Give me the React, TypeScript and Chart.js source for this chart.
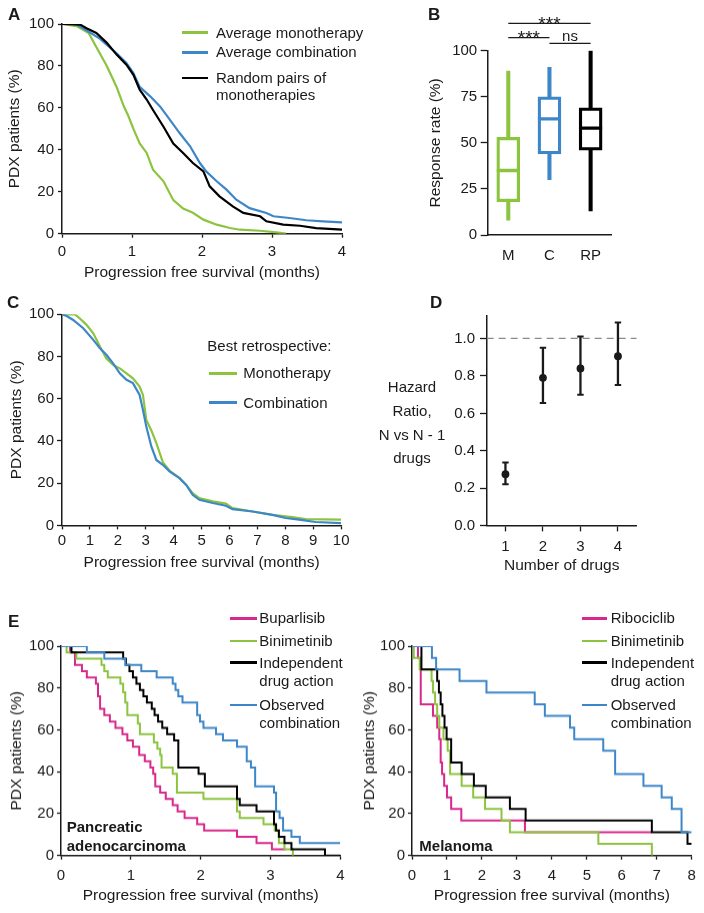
import React, { useEffect, useRef } from 'react';
import { Chart, registerables } from 'chart.js';

Chart.register(...registerables);

const FONT = "'Liberation Sans', Arial, Helvetica, sans-serif";
const INK = '#1a1a1a';
const GREEN = '#8cc43f';
const BLUE = '#3d87c9';
const BLACK = '#000000';
const MAGENTA = '#d8288c';
const DASH_GREY = '#8a8a8a';

// ---------------- Panel A : average survival ----------------
const A_LABELS = ['Average monotherapy', 'Average combination', 'Random pairs of monotherapies'];
const A_MONO_T = [0, 0.21, 0.38, 0.49, 0.64, 0.78, 0.88, 0.95, 1.02, 1.11, 1.21, 1.3, 1.45, 1.59, 1.73, 1.87, 2.02, 2.21, 2.4, 2.54, 2.83, 3.06, 3.2];
const A_MONO_S = [100, 99, 95.7, 89, 80, 70, 61, 56, 50, 43, 38.5, 30.5, 25, 16, 12, 10, 6.7, 4.3, 2.7, 1.9, 1.4, 0.6, 0];
const A_COMB_T = [0, 0.2, 0.3, 0.54, 0.78, 0.92, 1.02, 1.11, 1.26, 1.4, 1.54, 1.68, 1.83, 1.97, 2.06, 2.21, 2.35, 2.49, 2.68, 2.92, 3.02, 3.25, 3.49, 3.73, 4.0];
const A_COMB_S = [100, 100, 98, 93, 86, 81.4, 76.6, 70, 65.5, 60.7, 54.4, 48, 41.7, 33.7, 29.7, 25, 21, 16.2, 12.2, 9.9, 8.3, 7.5, 6.4, 5.9, 5.4];
const A_PAIR_T = [0, 0.26, 0.35, 0.49, 0.64, 0.78, 0.92, 1.02, 1.11, 1.21, 1.3, 1.45, 1.59, 1.73, 1.87, 2.02, 2.11, 2.25, 2.44, 2.59, 2.83, 2.92, 3.16, 3.4, 3.63, 4.0];
const A_PAIR_S = [100, 99.7, 98, 95.7, 91, 85.4, 80.6, 75.8, 68.7, 64, 59, 51, 43, 38.5, 33.7, 29.7, 22.6, 17.8, 13, 9.9, 8.3, 5.9, 4.3, 3.8, 2.7, 1.9];
const A_X_TICKS = [0, 1, 2, 3, 4];

// ---------------- Panel B : response rate box plots ----------------
const B_GROUPS = ['M', 'C', 'RP'];
const B_MIN = [8, 30, 13];
const B_Q1 = [18, 44, 46];
const B_MEDIAN = [35, 63, 58];
const B_Q3 = [53, 75, 69];
const B_MAX = [89, 91, 100];
const B_Y_TICKS = [0, 25, 50, 75, 100];
const B_SIG_FROM = [0, 0, 1];
const B_SIG_TO = [2, 1, 2];
const B_SIG_TEXT = ['***', '***', 'ns'];

// ---------------- Panel C : best retrospective ----------------
const C_LABELS = ['Monotherapy', 'Combination'];
const C_MONO_T = [0, 0.46, 0.64, 0.88, 1.12, 1.36, 1.59, 1.83, 2.07, 2.31, 2.54, 2.78, 2.9, 3.02, 3.2, 3.38, 3.61, 3.85, 4.21, 4.45, 4.68, 4.92, 5.4, 5.87, 6.11, 6.83, 7.54, 8.25, 8.73, 10];
const C_MONO_S = [100, 100, 98, 95, 91, 84.7, 79, 76, 74.4, 72, 69.7, 65.8, 61.8, 50, 45, 39, 30, 26, 22.4, 19.2, 15.3, 12.9, 11.4, 10.3, 8.2, 6.6, 5.0, 3.9, 3.0, 2.7];
const C_COMB_T = [0, 0.17, 0.4, 0.76, 1.12, 1.36, 1.59, 1.83, 2.07, 2.31, 2.54, 2.78, 2.9, 3.02, 3.2, 3.38, 3.61, 3.85, 4.21, 4.45, 4.68, 4.92, 5.4, 5.87, 6.11, 6.83, 7.54, 8.01, 8.49, 9.08, 10];
const C_COMB_S = [100, 99.2, 97.3, 93.4, 87.9, 83.9, 80.8, 76.8, 72, 69, 67.4, 61.8, 54.7, 46.8, 37.4, 31, 28.7, 25.6, 22.4, 19.2, 14.5, 12.1, 10.6, 9.3, 7.7, 6.6, 5.0, 3.5, 2.7, 1.6, 1.1];
const C_X_TICKS = [0, 1, 2, 3, 4, 5, 6, 7, 8, 9, 10];

// ---------------- Panel D : hazard ratios ----------------
const D_N = [1, 2, 3, 4];
const D_HR = [0.275, 0.79, 0.84, 0.905];
const D_LO = [0.222, 0.655, 0.7, 0.752];
const D_HI = [0.337, 0.95, 1.01, 1.085];
const D_REF = 1.0;
const D_Y_TICKS = [0, 0.2, 0.4, 0.6, 0.8, 1.0];
const D_X_MIN = 0.5;
const D_X_MAX = 4.5;
const D_Y_MAX = 1.12;

// ---------------- Panel E : pancreatic adenocarcinoma ----------------
const EP_LABELS = ['Buparlisib', 'Binimetinib', 'Independent drug action', 'Observed combination'];
const EP_BUP_T = [0, 0.13, 0.2, 0.3, 0.37, 0.5, 0.53, 0.56, 0.62, 0.7, 0.78, 0.88, 0.95, 1.03, 1.12, 1.2, 1.28, 1.32, 1.35, 1.42, 1.5, 1.6, 1.67, 1.77, 1.95, 2.05, 2.52, 2.8, 3.02, 3.22];
const EP_BUP_S = [100, 97, 91, 88, 85, 82, 76, 70, 67, 64, 61, 58, 55, 52, 48, 45, 42, 39, 33, 30, 27, 24, 21, 18, 15, 12, 9, 6, 3, 3];
const EP_BIN_T = [0, 0.08, 0.22, 0.58, 0.62, 0.67, 0.85, 0.89, 0.92, 0.95, 1.1, 1.13, 1.33, 1.38, 1.42, 1.44, 1.6, 1.66, 2.04, 2.52, 2.56, 2.9, 3.06, 3.12, 3.2, 3.32];
const EP_BIN_S = [100, 97, 94, 91, 88, 85, 82, 78, 73, 67, 63, 58, 54, 51, 48, 42, 39, 30, 27, 21, 18, 15, 12, 6, 3, 0];
const EP_IDA_T = [0, 0.15, 0.89, 0.93, 0.98, 1.03, 1.08, 1.13, 1.18, 1.23, 1.3, 1.34, 1.39, 1.45, 1.52, 1.62, 1.68, 1.97, 2.06, 2.52, 2.56, 2.8, 3.05, 3.08, 3.12, 3.2, 3.3, 3.78, 4.0];
const EP_IDA_S = [100, 97, 94, 91, 88, 85, 82, 79, 76, 73, 70, 67, 64, 61, 58, 55, 42, 39, 33, 27, 24, 21, 15, 12, 9, 6, 3, 0, 0];
const EP_OBS_T = [0, 0.37, 0.62, 0.92, 1.15, 1.37, 1.6, 1.64, 1.68, 1.74, 1.95, 1.99, 2.04, 2.22, 2.32, 2.52, 2.66, 2.72, 2.78, 3.05, 3.08, 3.13, 3.18, 3.3, 3.42, 4.0];
const EP_OBS_S = [100, 97, 94, 91, 88, 85, 82, 79, 76, 73, 67, 64, 61, 58, 55, 52, 45, 42, 33, 30, 21, 18, 12, 9, 6, 6];
const EP_X_TICKS = [0, 1, 2, 3, 4];

// ---------------- Panel E : melanoma ----------------
const EM_LABELS = ['Ribociclib', 'Binimetinib', 'Independent drug action', 'Observed combination'];
const EM_RIB_T = [0, 0.17, 0.25, 0.6, 0.72, 0.78, 0.82, 0.86, 0.92, 1.0, 1.12, 1.41, 3.23, 6.85];
const EM_RIB_S = [100, 94.4, 72.2, 66.7, 61.1, 55.6, 44.4, 38.9, 33.3, 27.8, 22.2, 16.7, 11.1, 11.1];
const EM_BIN_T = [0, 0.05, 0.22, 0.56, 0.6, 0.66, 0.72, 0.78, 0.9, 1.02, 1.09, 1.42, 1.75, 2.09, 2.56, 2.8, 5.33, 6.86];
const EM_BIN_S = [100, 94.4, 88.9, 83.3, 77.8, 72.2, 66.7, 61.1, 55.6, 50, 38.9, 33.3, 27.8, 22.2, 16.7, 11.1, 5.6, 0];
const EM_IDA_T = [0, 0.27, 0.72, 0.77, 0.82, 0.87, 0.93, 0.99, 1.12, 1.42, 1.77, 2.11, 2.8, 3.25, 6.86, 7.88, 8.0];
const EM_IDA_S = [100, 88.9, 83.3, 77.8, 72.2, 66.7, 61.1, 55.6, 44.4, 38.9, 33.3, 27.8, 22.2, 16.7, 11.1, 5.6, 5.6];
const EM_OBS_T = [0, 0.57, 0.69, 1.36, 2.13, 3.51, 3.8, 4.52, 4.64, 5.47, 5.81, 6.62, 7.14, 7.43, 7.71, 8.0];
const EM_OBS_S = [100, 94.4, 88.9, 83.3, 77.8, 72.2, 66.7, 61.1, 55.6, 50, 38.9, 33.3, 27.8, 22.2, 11.1, 11.1];
const EM_X_TICKS = [0, 1, 2, 3, 4, 5, 6, 7, 8];

const PCT_TICKS = [0, 20, 40, 60, 80, 100];
const PFS_TITLE = 'Progression free survival (months)';
const PDX_TITLE = 'PDX patients (%)';

// ---------------- helpers ----------------
const pts = (t: number[], s: number[]) => t.map((x, i) => ({ x, y: s[i] }));

type Box = { padL: number; padT: number; padR: number; wy: number; hx: number };

function linAxis(o: {
  min: number; max: number; ticks: number[]; tl: number; pad: number;
  fit: (s: any) => void; title?: string; fmt?: (v: number) => string;
}): any {
  return {
    type: 'linear',
    min: o.min,
    max: o.max,
    afterBuildTicks: (s: any) => { s.ticks = o.ticks.map((v) => ({ value: v })); },
    afterFit: o.fit,
    grid: { display: true, drawOnChartArea: false, drawTicks: true, tickLength: o.tl, tickColor: INK, tickWidth: 1.3 },
    border: { display: true, color: INK, width: 1.5 },
    ticks: {
      color: INK, font: { size: 15, family: FONT }, padding: o.pad, maxRotation: 0, autoSkip: false,
      callback: (v: any) => (o.fmt ? o.fmt(Number(v)) : String(v)),
    },
    title: o.title
      ? { display: true, text: o.title, color: INK, font: { size: 15.5, family: FONT }, padding: 0 }
      : { display: false },
  };
}

type Series = { label: string; t: number[]; s: number[]; color: string; order: number };

function survivalConfig(o: {
  series: Series[]; xMax: number; xTicks: number[]; box: Box; stepped: boolean;
  padX: number; padY: number; tlX: number; tlY: number; width: number;
}): any {
  return {
    type: 'line',
    data: {
      datasets: o.series.map((s) => ({
        label: s.label,
        data: pts(s.t, s.s),
        borderColor: s.color,
        backgroundColor: s.color,
        borderWidth: o.width,
        pointRadius: 0,
        tension: 0,
        fill: false,
        stepped: o.stepped ? 'before' : false,
        order: s.order,
      })),
    },
    options: {
      responsive: false,
      animation: false,
      events: [],
      layout: { padding: { left: o.box.padL, top: o.box.padT, right: o.box.padR, bottom: 0 } },
      plugins: { legend: { display: false }, tooltip: { enabled: false } },
      scales: {
        x: linAxis({ min: 0, max: o.xMax, ticks: o.xTicks, tl: o.tlX, pad: o.padX, fit: (s) => { s.height = o.box.hx; }, title: PFS_TITLE }),
        y: linAxis({ min: 0, max: 100, ticks: PCT_TICKS, tl: o.tlY, pad: o.padY, fit: (s) => { s.width = o.box.wy; }, title: PDX_TITLE }),
      },
    },
  };
}

const makeA = () => survivalConfig({
  series: [
    { label: A_LABELS[0], t: A_MONO_T, s: A_MONO_S, color: GREEN, order: 2 },
    { label: A_LABELS[1], t: A_COMB_T, s: A_COMB_S, color: BLUE, order: 1 },
    { label: A_LABELS[2], t: A_PAIR_T, s: A_PAIR_S, color: BLACK, order: 0 },
  ],
  xMax: 4, xTicks: A_X_TICKS, stepped: false, width: 2.2,
  box: { padL: 5, padT: 24, padR: 10, wy: 57, hx: 48.3 },
  padX: 4.7, padY: 4, tlX: 4, tlY: 4,
});

const makeC = () => survivalConfig({
  series: [
    { label: C_LABELS[0], t: C_MONO_T, s: C_MONO_S, color: GREEN, order: 1 },
    { label: C_LABELS[1], t: C_COMB_T, s: C_COMB_S, color: BLUE, order: 0 },
  ],
  xMax: 10, xTicks: C_X_TICKS, stepped: false, width: 2.2,
  box: { padL: 7.5, padT: 24.3, padR: 10, wy: 54.5, hx: 46.6 },
  padX: 2.5, padY: 3, tlX: 4, tlY: 5,
});

const makeE1 = () => survivalConfig({
  series: [
    { label: EP_LABELS[0], t: EP_BUP_T, s: EP_BUP_S, color: MAGENTA, order: 3 },
    { label: EP_LABELS[1], t: EP_BIN_T, s: EP_BIN_S, color: GREEN, order: 2 },
    { label: EP_LABELS[2], t: EP_IDA_T, s: EP_IDA_S, color: BLACK, order: 1 },
    { label: EP_LABELS[3], t: EP_OBS_T, s: EP_OBS_S, color: BLUE, order: 0 },
  ],
  xMax: 4, xTicks: EP_X_TICKS, stepped: true, width: 2,
  box: { padL: 7.7, padT: 26, padR: 11.3, wy: 53.3, hx: 49.3 },
  padX: 7.5, padY: 3, tlX: 4, tlY: 4,
});

const makeE2 = () => survivalConfig({
  series: [
    { label: EM_LABELS[0], t: EM_RIB_T, s: EM_RIB_S, color: MAGENTA, order: 3 },
    { label: EM_LABELS[1], t: EM_BIN_T, s: EM_BIN_S, color: GREEN, order: 2 },
    { label: EM_LABELS[2], t: EM_IDA_T, s: EM_IDA_S, color: BLACK, order: 1 },
    { label: EM_LABELS[3], t: EM_OBS_T, s: EM_OBS_S, color: BLUE, order: 0 },
  ],
  xMax: 8, xTicks: EM_X_TICKS, stepped: true, width: 2,
  box: { padL: 8.2, padT: 26, padR: 12.3, wy: 51.8, hx: 49.3 },
  padX: 7.5, padY: 3, tlX: 4, tlY: 4,
});

const B_COLORS = [GREEN, BLUE, BLACK];
const SIG_RISE = [27.4, 13, 7.4];

const bracketPlugin = {
  id: 'sigBrackets',
  afterDatasetsDraw(chart: any) {
    const { ctx, chartArea, scales } = chart;
    const x = scales.x;
    ctx.save();
    B_SIG_FROM.forEach((from, i) => {
      const x1 = x.getPixelForValue(from);
      const x2 = x.getPixelForValue(B_SIG_TO[i]);
      const yLine = chartArea.top - SIG_RISE[i];
      ctx.strokeStyle = INK;
      ctx.lineWidth = 1.3;
      ctx.beginPath();
      ctx.moveTo(x1, yLine);
      ctx.lineTo(x2, yLine);
      ctx.stroke();
      const stars = B_SIG_TEXT[i].startsWith('*');
      ctx.font = `${stars ? 19 : 15}px ${FONT}`;
      ctx.fillStyle = INK;
      ctx.textAlign = 'center';
      ctx.textBaseline = 'alphabetic';
      ctx.fillText(B_SIG_TEXT[i], (x1 + x2) / 2, yLine + (stars ? 6.5 : -2.5));
    });
    ctx.restore();
  },
};

const makeB = (): any => ({
  type: 'bar',
  data: {
    labels: B_GROUPS,
    datasets: [
      {
        type: 'line', data: B_MEDIAN, showLine: false, pointStyle: 'line', pointRadius: 11.5,
        pointBorderWidth: 3.3, pointBorderColor: B_COLORS, pointBackgroundColor: B_COLORS, order: 0,
      },
      {
        data: B_Q1.map((q, i) => [q, B_Q3[i]]), backgroundColor: '#ffffff', borderColor: B_COLORS,
        borderWidth: 3.3, borderSkipped: false, barThickness: 23, grouped: false, order: 1,
      },
      {
        data: B_MIN.map((m, i) => [m, B_MAX[i]]), backgroundColor: B_COLORS, borderWidth: 0,
        barThickness: 3.4, grouped: false, order: 2,
      },
    ],
  },
  options: {
    responsive: false,
    animation: false,
    events: [],
    layout: { padding: { left: 0, top: 50.7, right: 7, bottom: 0 } },
    plugins: { legend: { display: false }, tooltip: { enabled: false } },
    scales: {
      x: {
        type: 'category', offset: true,
        afterFit: (s: any) => { s.height = 35; },
        grid: { display: false },
        border: { display: true, color: INK, width: 1.5 },
        ticks: { color: INK, font: { size: 15, family: FONT }, padding: 4.3 },
      },
      y: linAxis({
        min: 0, max: 100, ticks: B_Y_TICKS, tl: 7, pad: 3.5,
        fit: (s) => { s.width = 61.7; }, title: 'Response rate (%)',
      }),
    },
  },
  plugins: [bracketPlugin],
});

const makeD = (): any => ({
  type: 'scatter',
  data: {
    datasets: [
      {
        data: D_N.map((n, i) => ({ x: n, y: D_HR[i] })), pointRadius: 3.9,
        pointBackgroundColor: INK, pointBorderWidth: 0, order: 0,
      },
      ...D_N.map((n, i) => ({
        data: [{ x: n, y: D_LO[i] }, { x: n, y: D_HI[i] }], showLine: true, borderColor: INK,
        borderWidth: 2.3, pointStyle: 'line', pointRadius: 3.2, pointBorderWidth: 2,
        pointBorderColor: INK, order: 1,
      })),
      {
        data: [{ x: D_X_MIN, y: D_REF }, { x: D_X_MAX, y: D_REF }], showLine: true,
        borderColor: DASH_GREY, borderWidth: 1.2, borderDash: [7, 5], pointRadius: 0, order: 2,
      },
    ],
  },
  options: {
    responsive: false,
    animation: false,
    events: [],
    layout: { padding: { left: 0, top: 26, right: 13.3, bottom: 0 } },
    plugins: { legend: { display: false }, tooltip: { enabled: false } },
    scales: {
      x: linAxis({
        min: D_X_MIN, max: D_X_MAX, ticks: D_N, tl: 5.7, pad: 6,
        fit: (s) => { s.height = 49.3; }, title: 'Number of drugs',
      }),
      y: linAxis({
        min: 0, max: D_Y_MAX, ticks: D_Y_TICKS, tl: 6.7, pad: 5,
        fit: (s) => { s.width = 66.7; }, fmt: (v) => v.toFixed(1),
      }),
    },
  },
});

function ChartBox({ left, top, width, height, make }: {
  left: number; top: number; width: number; height: number; make: () => any;
}) {
  const ref = useRef<HTMLCanvasElement>(null);
  useEffect(() => {
    const chart = new Chart(ref.current as HTMLCanvasElement, make());
    return () => chart.destroy();
  }, []);
  return (
    <canvas
      ref={ref}
      width={width}
      height={height}
      style={{ position: 'absolute', left, top, width, height }}
    />
  );
}

function Txt({ x, y, text, bold = false, size = 15, center = false }: {
  x: number; y: number; text: string; bold?: boolean; size?: number; center?: boolean;
}) {
  const lh = size * 1.2;
  return (
    <div
      style={{
        position: 'absolute',
        left: center ? x - 80 : x,
        width: center ? 160 : undefined,
        top: y - lh / 2,
        textAlign: center ? 'center' : 'left',
        font: `${bold ? 'bold ' : ''}${size}px ${FONT}`,
        lineHeight: `${lh}px`,
        whiteSpace: 'nowrap',
        color: INK,
      }}
    >
      {text}
    </div>
  );
}

function Swatch({ x1, x2, y, color }: { x1: number; x2: number; y: number; color: string }) {
  return <div style={{ position: 'absolute', left: x1, top: y - 1.4, width: x2 - x1, height: 2.8, background: color }} />;
}

function Legend({ items, colors, rows, sx1, sx2, tx, lineGap }: {
  items: string[][]; colors: string[]; rows: number[]; sx1: number; sx2: number; tx: number; lineGap: number;
}) {
  return (
    <>
      {items.map((lines, i) => (
        <React.Fragment key={i}>
          <Swatch x1={sx1} x2={sx2} y={rows[i]} color={colors[i]} />
          {lines.map((ln, j) => (
            <Txt key={j} x={tx} y={rows[i] + j * lineGap} text={ln} />
          ))}
        </React.Fragment>
      ))}
    </>
  );
}

const splitTwo = (s: string, cut: number) => [s.split(' ').slice(0, cut).join(' '), s.split(' ').slice(cut).join(' ')];

export default function App() {
  const eRows = [618.3, 641, 662.7, 705];
  return (
    <div style={{ position: 'absolute', left: 0, top: 0, width: 704, height: 913, background: '#ffffff', overflow: 'hidden' }}>
      <ChartBox left={0} top={0} width={352} height={282} make={makeA} />
      <ChartBox left={426} top={0} width={200} height={270} make={makeB} />
      <ChartBox left={0} top={290} width={352} height={282} make={makeC} />
      <ChartBox left={420} top={290} width={230} height={285} make={makeD} />
      <ChartBox left={0} top={620} width={352} height={284.7} make={makeE1} />
      <ChartBox left={352} top={620} width={352} height={284.7} make={makeE2} />

      <Txt x={8} y={15} text="A" bold size={17} />
      <Txt x={428} y={15} text="B" bold size={17} />
      <Txt x={7} y={303.5} text="C" bold size={17} />
      <Txt x={430} y={303.3} text="D" bold size={17} />
      <Txt x={8} y={621.7} text="E" bold size={17} />

      <Legend
        items={[[A_LABELS[0]], [A_LABELS[1]], splitTwo(A_LABELS[2], 3)]}
        colors={[GREEN, BLUE, BLACK]}
        rows={[32.6, 52.4, 78]}
        sx1={182} sx2={208} tx={216} lineGap={16.6}
      />

      <Txt x={207.3} y={345.8} text="Best retrospective:" />
      <Legend
        items={[[C_LABELS[0]], [C_LABELS[1]]]}
        colors={[GREEN, BLUE]}
        rows={[373.3, 402.7]}
        sx1={209.3} sx2={237.3} tx={243.3} lineGap={17}
      />

      <Txt x={412} y={386.7} text="Hazard" center />
      <Txt x={412} y={411} text="Ratio," center />
      <Txt x={412} y={435} text="N vs N - 1" center />
      <Txt x={412} y={457.7} text="drugs" center />

      <Legend
        items={[[EP_LABELS[0]], [EP_LABELS[1]], splitTwo(EP_LABELS[2], 1), splitTwo(EP_LABELS[3], 1)]}
        colors={[MAGENTA, GREEN, BLACK, BLUE]}
        rows={eRows}
        sx1={230} sx2={256.7} tx={259.3} lineGap={18.2}
      />
      <Legend
        items={[[EM_LABELS[0]], [EM_LABELS[1]], splitTwo(EM_LABELS[2], 1), splitTwo(EM_LABELS[3], 1)]}
        colors={[MAGENTA, GREEN, BLACK, BLUE]}
        rows={eRows}
        sx1={581.7} sx2={607.3} tx={610.7} lineGap={18.2}
      />

      <Txt x={66.7} y={826.7} text="Pancreatic" bold />
      <Txt x={66.7} y={846} text="adenocarcinoma" bold />
      <Txt x={419.3} y={846} text="Melanoma" bold />
    </div>
  );
}
